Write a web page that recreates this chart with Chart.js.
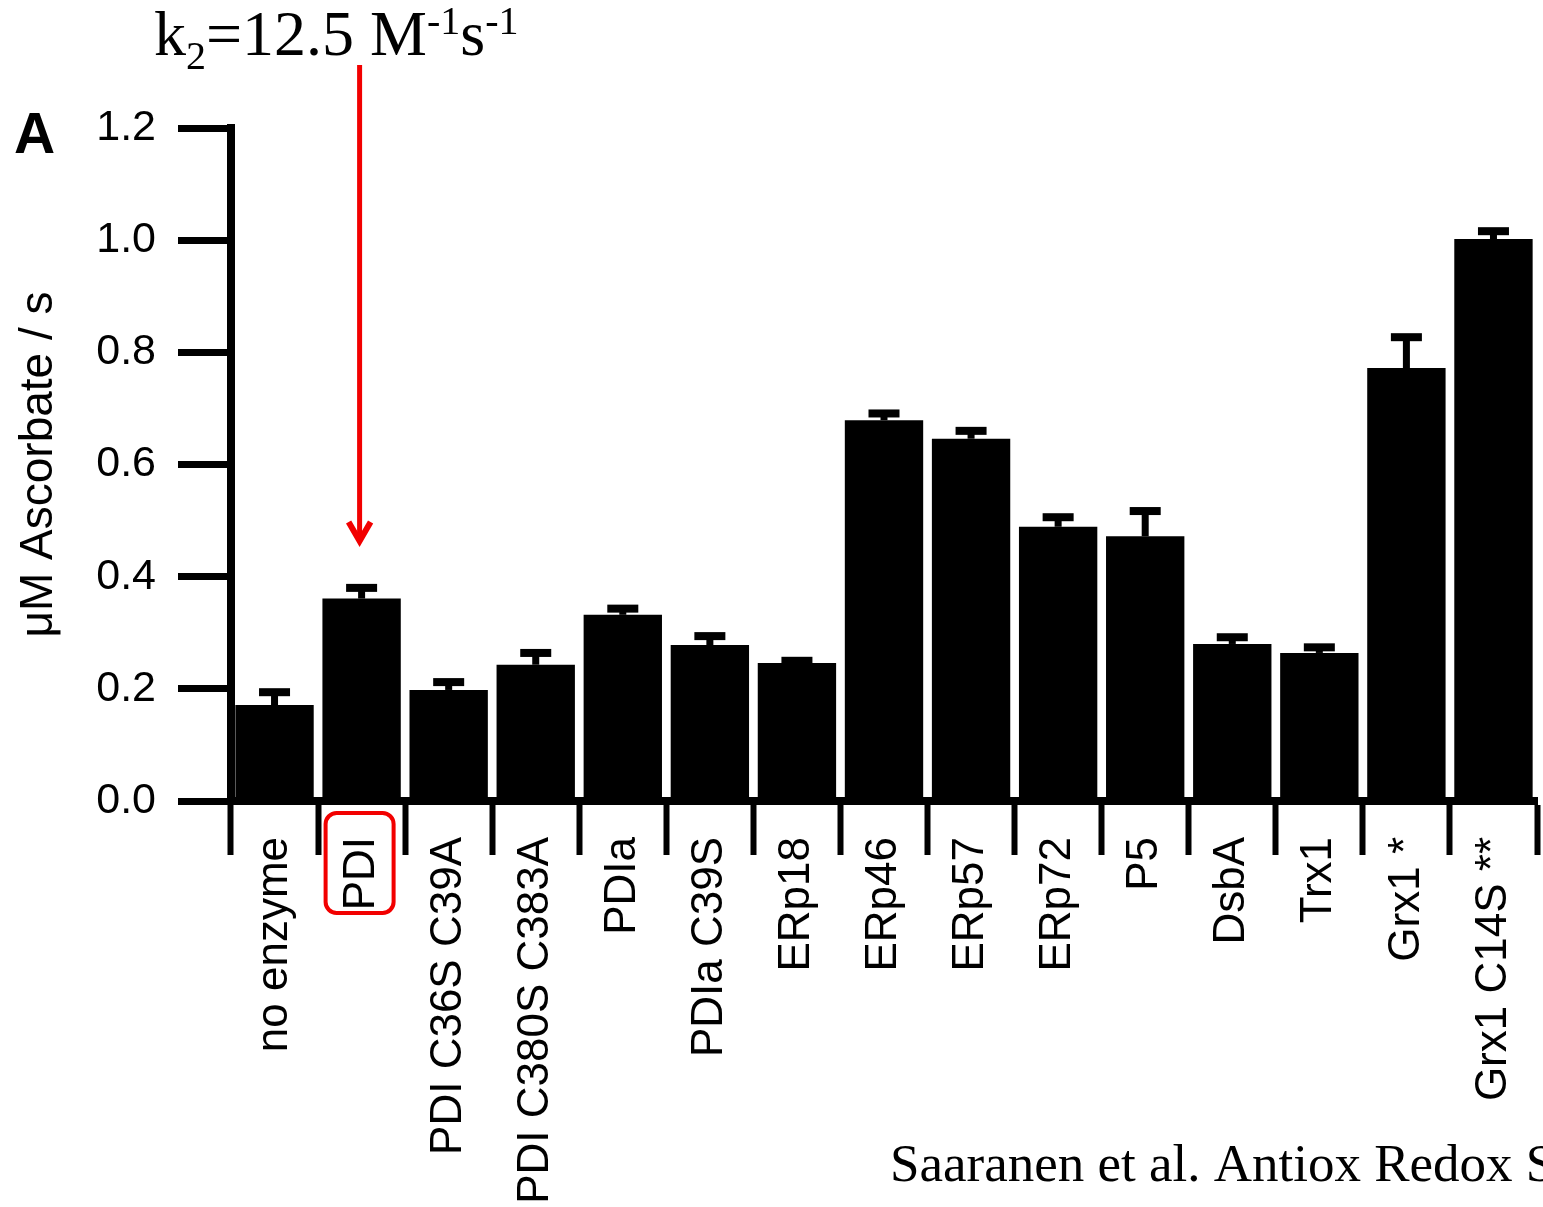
<!DOCTYPE html>
<html>
<head>
<meta charset="utf-8">
<script src="https://cdn.jsdelivr.net/npm/chart.js@4"></script>
<style>
  html, body { margin: 0; padding: 0; background: #ffffff; }
  #wrap { width: 1543px; height: 1207px; position: relative; }
  canvas { display: block; }
</style>
</head>
<body>
<div id="wrap"><canvas id="c" width="1543" height="1207"></canvas></div>
<script>
// ---- data ----
const categories = ['no enzyme', 'PDI', 'PDI C36S C39A', 'PDI C380S C383A', 'PDIa', 'PDIa C39S',
  'ERp18', 'ERp46', 'ERp57', 'ERp72', 'P5', 'DsbA', 'Trx1', 'Grx1 *', 'Grx1 C14S **'];
const rates = [0.171, 0.361, 0.198, 0.243, 0.332, 0.278, 0.246, 0.679, 0.646, 0.489, 0.472, 0.280, 0.264, 0.772, 1.002];
const rateErrors = [0.023, 0.019, 0.014, 0.021, 0.011, 0.016, 0.004, 0.012, 0.014, 0.017, 0.045, 0.012, 0.010, 0.055, 0.014];
const yAxisTitle = 'μM Ascorbate / s';
const panelLetter = 'A';
const highlightedCategory = 'PDI';
const citation = 'Saaranen et al. Antiox Redox S';

const SANS = '"Liberation Sans", Arial, Helvetica, sans-serif';
const SERIF = '"Liberation Serif", "Times New Roman", serif';

const errorBarPlugin = {
  id: 'errorBars',
  afterDatasetsDraw(chart) {
    const ctx = chart.ctx;
    const meta = chart.getDatasetMeta(0);
    const yScale = chart.scales.y;
    ctx.save();
    ctx.fillStyle = '#000';
    meta.data.forEach((bar, i) => {
      const x = bar.x;
      const yTop = yScale.getPixelForValue(rates[i]);
      const yErr = yScale.getPixelForValue(rates[i] + rateErrors[i]);
      ctx.fillRect(x - 3.5, yErr, 7, yTop - yErr);
      ctx.fillRect(x - 15.5, yErr - 4, 31, 8);
    });
    ctx.restore();
  }
};

const annotationPlugin = {
  id: 'annotations',
  afterDraw(chart) {
    const ctx = chart.ctx;
    const xScale = chart.scales.x;
    const idx = categories.indexOf(highlightedCategory);
    const cx = xScale.getPixelForValue(idx) - 2;
    ctx.save();
    ctx.fillStyle = '#000';
    ctx.textBaseline = 'alphabetic';
    ctx.textAlign = 'left';
    ctx.font = 'bold 57px ' + SANS;
    ctx.fillText(panelLetter, 14, 153);

    // rate constant text
    let x = 154;
    const base = 55;
    const big = '64px ' + SERIF;
    const small = '40px ' + SERIF;
    const parts = [
      ['k', big, 0], ['2', small, 14], ['=12.5 M', big, 0], ['-1', small, -21], ['s', big, 0], ['-1', small, -21]
    ];
    parts.forEach(([t, f, dy]) => {
      ctx.font = f;
      ctx.fillText(t, x, base + dy);
      x += ctx.measureText(t).width;
    });

    // red arrow
    ctx.strokeStyle = '#f20000';
    ctx.lineWidth = 5;
    ctx.beginPath();
    ctx.moveTo(cx, 65);
    ctx.lineTo(cx, 538);
    ctx.stroke();
    ctx.lineWidth = 6;
    ctx.lineJoin = 'miter';
    ctx.beginPath();
    ctx.moveTo(cx - 11, 522);
    ctx.lineTo(cx, 541);
    ctx.lineTo(cx + 11, 522);
    ctx.stroke();

    // red rounded box around the highlighted label
    const bx = cx - 34, by = 813, bw = 68, bh = 100, r = 11;
    ctx.lineWidth = 4;
    ctx.beginPath();
    ctx.moveTo(bx + r, by);
    ctx.lineTo(bx + bw - r, by);
    ctx.arcTo(bx + bw, by, bx + bw, by + r, r);
    ctx.lineTo(bx + bw, by + bh - r);
    ctx.arcTo(bx + bw, by + bh, bx + bw - r, by + bh, r);
    ctx.lineTo(bx + r, by + bh);
    ctx.arcTo(bx, by + bh, bx, by + bh - r, r);
    ctx.lineTo(bx, by + r);
    ctx.arcTo(bx, by, bx + r, by, r);
    ctx.closePath();
    ctx.stroke();

    // citation
    ctx.fillStyle = '#000';
    ctx.font = '53px ' + SERIF;
    ctx.fillText(citation, 890, 1181);
    ctx.restore();
  }
};

new Chart(document.getElementById('c'), {
  type: 'bar',
  data: {
    labels: categories,
    datasets: [{
      data: rates,
      backgroundColor: '#000000',
      borderWidth: 0,
      barPercentage: 0.9,
      categoryPercentage: 1.0
    }]
  },
  options: {
    responsive: false,
    maintainAspectRatio: false,
    devicePixelRatio: 1,
    animation: false,
    events: [],
    layout: { padding: { top: 128, right: 6, left: 0, bottom: 0 } },
    plugins: { legend: { display: false }, tooltip: { enabled: false }, title: { display: false } },
    scales: {
      x: {
        offset: true,
        afterFit(s) { s.height = 406; },
        border: { display: true, color: '#000', width: 8 },
        grid: { display: true, drawOnChartArea: false, drawTicks: true, tickLength: 54, tickWidth: 6, tickColor: '#000', offset: true },
        ticks: {
          autoSkip: false, minRotation: 90, maxRotation: 90, padding: -18,
          color: '#000', font: { family: SANS, size: 44 }
        }
      },
      y: {
        min: 0, max: 1.2,
        afterFit(s) { s.width = 231; },
        border: { display: true, color: '#000', width: 8 },
        grid: { display: true, drawOnChartArea: false, drawTicks: true, tickLength: 53, tickWidth: 7, tickColor: '#000' },
        ticks: {
          stepSize: 0.2, padding: 22, color: '#000',
          font: { family: SANS, size: 43 },
          callback: (v) => Number(v).toFixed(1)
        },
        title: {
          display: true, text: yAxisTitle, color: '#000',
          font: { family: SANS, size: 46, lineHeight: 1.2 },
          padding: { top: 12, bottom: 0 }
        }
      }
    }
  },
  plugins: [errorBarPlugin, annotationPlugin]
});
</script>
</body>
</html>
